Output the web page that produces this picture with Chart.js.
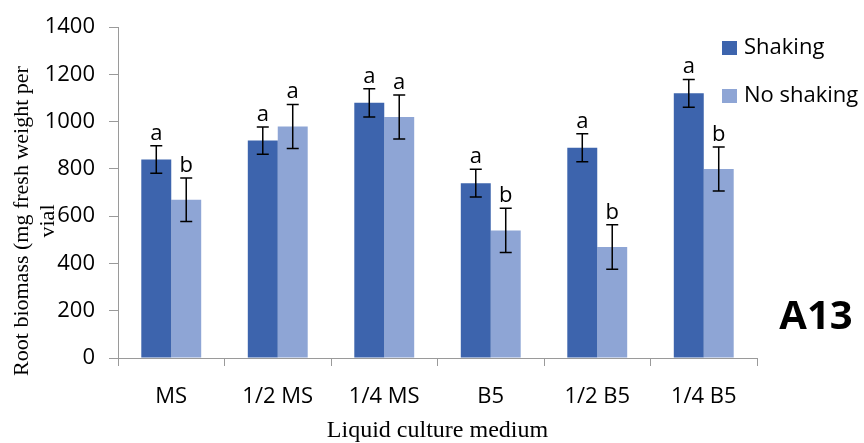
<!DOCTYPE html>
<html>
<head>
<meta charset="utf-8">
<script src="https://cdn.jsdelivr.net/npm/chart.js@4.4.1/dist/chart.umd.min.js"></script>
<style>
  html, body { margin: 0; padding: 0; background: #fff; }
  #wrap { width: 864px; height: 443px; position: relative; }
</style>
</head>
<body>
<div id="wrap"><canvas id="rootChart"></canvas></div>
<script>
const categories = ['MS', '1/2 MS', '1/4 MS', 'B5', '1/2 B5', '1/4 B5'];
const shaking = [840, 920, 1080, 740, 890, 1120];
const shakingErr = [58, 58, 60, 59, 59, 59];
const shakingLetters = ['a', 'a', 'a', 'a', 'a', 'a'];
const noShaking = [670, 980, 1020, 540, 470, 800];
const noShakingErr = [92, 93, 93, 94, 94, 93];
const noShakingLetters = ['b', 'a', 'a', 'b', 'b', 'b'];
const yTicks = [0, 200, 400, 600, 800, 1000, 1200, 1400];

const DARK = '#3d64ad';
const LIGHT = '#8ea5d5';
const SANS = '"Open Sans", sans-serif';
const SERIF = '"Liberation Serif", "Times New Roman", serif';

// error bars + significance letters
const errorBars = {
  id: 'errorBars',
  afterDatasetsDraw(chart) {
    const ctx = chart.ctx;
    const y = chart.scales.y;
    ctx.save();
    chart.data.datasets.forEach((ds, di) => {
      const meta = chart.getDatasetMeta(di);
      meta.data.forEach((bar, i) => {
        const v = ds.data[i];
        const top = y.getPixelForValue(v + ds.err[i]);
        const bot = y.getPixelForValue(v - ds.err[i]);
        ctx.strokeStyle = '#000';
        ctx.lineWidth = 1.5;
        ctx.beginPath();
        ctx.moveTo(bar.x, top); ctx.lineTo(bar.x, bot);
        ctx.moveTo(bar.x - 6, top); ctx.lineTo(bar.x + 6, top);
        ctx.moveTo(bar.x - 6, bot); ctx.lineTo(bar.x + 6, bot);
        ctx.stroke();
        ctx.fillStyle = '#000';
        ctx.font = '22px ' + SANS;
        ctx.textAlign = 'center';
        ctx.textBaseline = 'alphabetic';
        ctx.fillText(ds.letters[i], bar.x, top - 6);
      });
    });
    ctx.restore();
  }
};

// legend, y title, panel label
const extras = {
  id: 'extras',
  afterDraw(chart) {
    const ctx = chart.ctx;
    ctx.save();
    const items = [['Shaking', DARK, 48], ['No shaking', LIGHT, 96]];
    ctx.font = '22px ' + SANS;
    ctx.textBaseline = 'middle';
    ctx.textAlign = 'left';
    items.forEach(([txt, col, cy]) => {
      ctx.fillStyle = col;
      ctx.fillRect(722, cy - 7, 15, 14);
      ctx.fillStyle = '#000';
      ctx.fillText(txt, 744, cy);
    });

    ctx.font = 'bold 40px ' + SANS;
    ctx.textAlign = 'center';
    ctx.textBaseline = 'alphabetic';
    ctx.fillText('A13', 816, 329);

    ctx.translate(0, 221);
    ctx.rotate(-Math.PI / 2);
    ctx.font = '22px ' + SERIF;
    ctx.textAlign = 'center';
    ctx.textBaseline = 'middle';
    ctx.fillText('Root biomass (mg fresh weight per', 0, 22);
    ctx.fillText('vial', 0, 48);
    ctx.restore();
  }
};

new Chart(document.getElementById('rootChart'), {
  type: 'bar',
  data: {
    labels: categories,
    datasets: [
      { label: 'Shaking', data: shaking, err: shakingErr, letters: shakingLetters, backgroundColor: DARK },
      { label: 'No shaking', data: noShaking, err: noShakingErr, letters: noShakingLetters, backgroundColor: LIGHT }
    ]
  },
  options: {
    responsive: true,
    maintainAspectRatio: false,
    animation: false,
    datasets: { bar: { categoryPercentage: 0.5625, barPercentage: 1 } },
    layout: { padding: { left: 0, right: 107, top: 24, bottom: 0 } },
    plugins: { legend: { display: false }, tooltip: { enabled: false } },
    scales: {
      x: {
        afterFit(s) { s.height = 85; },
        grid: { drawOnChartArea: false, tickLength: 8, color: '#9a9a9a', offset: true },
        border: { color: '#9a9a9a' },
        ticks: { color: '#000', font: { family: SANS, size: 22 }, padding: 18 },
        title: { display: true, text: 'Liquid culture medium', color: '#000', font: { family: SERIF, size: 24, lineHeight: 1 }, padding: { top: 2, bottom: 0 } }
      },
      y: {
        min: 0, max: 1400,
        afterFit(s) { s.width = 118; },
        afterBuildTicks(s) { s.ticks = yTicks.map(v => ({ value: v })); },
        grid: { drawOnChartArea: false, tickLength: 9, color: '#9a9a9a' },
        border: { color: '#9a9a9a' },
        ticks: { color: '#000', font: { family: SANS, size: 22 }, padding: 14, callback: v => String(v) }
      }
    }
  },
  plugins: [errorBars, extras]
});
</script>
</body>
</html>
